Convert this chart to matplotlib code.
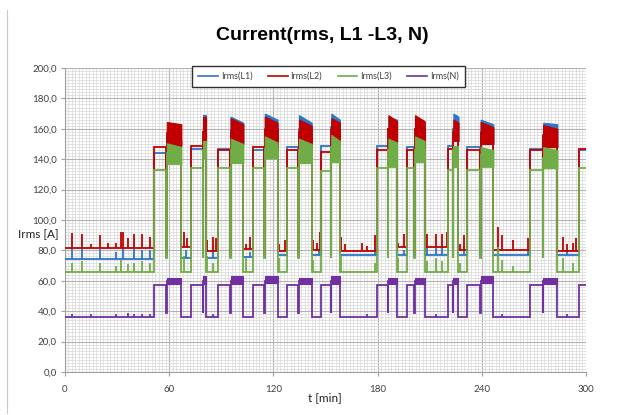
import matplotlib
matplotlib.use("Agg")
import matplotlib.pyplot as plt
from matplotlib.ticker import MultipleLocator, FuncFormatter
from matplotlib.lines import Line2D

# ---------------- data ----------------
series_names = ["Irms(L1)", "Irms(L2)", "Irms(L3)", "Irms(N)"]

seg_start = [0, 51, 58.3, 67, 72.7, 79.4, 81, 88.3, 95, 102.7, 108, 114.7, 122.4,
             127.7, 134.4, 142.1, 147.2, 153, 158.3, 179.7, 185.9, 191.2, 197,
             201.2, 207.1, 220.8, 223.3, 226.6, 231.7, 239, 246.7, 268, 275,
             283.5, 296]
seg_end_time = 300
seg_state = ["L", "M", "H", "L", "M", "H", "L", "M", "H", "L", "M", "H", "L",
             "M", "H", "L", "M", "H", "L", "M", "H", "L", "M",
             "H", "L", "M", "H", "L", "M", "H", "L", "M", "H",
             "L", "M"]

l1_level = [74.3, 144, 155, 75, 146.5, 158, 75, 147, 159, 75.5, 146, 160, 77,
            148, 160, 77, 149, 161, 77, 149, 160, 77, 148,
            160, 77, 149, 160, 77, 148, 158, 77, 147, 156,
            77, 146]
l2_level = [81.8, 148, 157, 82, 149, 158, 79.5, 146, 158, 81, 148, 159, 79.5,
            146, 158, 80, 145, 159, 79.5, 146, 160, 82.5, 146,
            160, 82.5, 147, 158, 80.5, 146, 157, 80, 146, 155,
            79.5, 147]
l3_level = [66, 133, 144, 66, 134, 146, 66, 134, 146, 66, 134, 147, 66,
            134, 146, 66, 132, 148, 66, 134, 146, 66, 134,
            146, 66, 133, 146, 66, 133, 143, 66, 133, 141,
            66, 134]
n_level = [36.4, 57.2, 60, 36, 57, 60, 36, 57, 60, 36, 57, 60, 36,
           57, 60, 36, 57, 60, 36, 57, 60, 36, 57,
           60, 36, 57, 60, 36, 57, 60, 36, 57, 60,
           36, 57]

# brief dip to the low state at the start of each high-load block
dip_l1, dip_l2, dip_l3, dip_n = 76, 78, 75, 38.5

# fluctuation envelopes of the 11 high-load blocks (start / end of block)
h_l1_top_a = [155, 169, 168, 170, 169, 170, 168, 168, 170, 166, 164]
h_l1_top_b = [152, 169, 164, 166, 164, 166, 166, 165, 168, 163, 163]
h_l2_top_a = [164.5, 168, 167, 168, 166, 167, 169, 169, 166, 164.5, 162.5]
h_l2_top_b = [163, 168, 163, 164, 162, 164, 165, 165, 164, 161, 160]
h_l2_bot = [149, 150, 150, 151.5, 150, 151, 151.5, 150, 152, 150, 148]
h_l3_top_a = [150.5, 152, 153.5, 155, 153.5, 156, 153.5, 155, 149, 148, 148]
h_l3_top_b = [148, 152, 150, 151, 150, 152, 151, 152, 149, 146, 146]
h_l3_bot = [137, 140, 137.5, 140.5, 137.5, 138, 135, 138, 135, 135, 134]
h_n_top = [62, 63, 63, 63, 62, 63, 62, 62, 62, 63, 62]
h_n_bot = [58, 58, 58, 58.5, 58, 58, 58, 58, 58, 58.5, 58]

# short spikes during low-load periods
l2_spike_t = [4.2, 9.9, 14.9, 20.1, 24.8, 29.3, 32.5, 33.4, 36.3, 39.6, 44.6, 48.8,
              68.5, 70, 82, 85.5, 87, 104, 106.5, 123, 126.5, 143, 145, 146.8,
              159, 161, 171, 174, 178.5, 192, 195, 208.5, 213.5, 217, 220,
              227.5, 229.5, 249.5, 251.5, 258, 266.5, 286.5, 289, 292.5, 294.5]
l2_spike_v = [91.6, 91, 84, 90, 85, 85, 92, 92, 88, 91, 91, 89,
              92, 88, 87, 89, 88, 84, 89, 84, 87, 87, 85, 92,
              89, 84, 85, 83, 90, 85, 91, 91, 91, 91, 92,
              84, 90, 95.6, 90, 87, 88, 89, 84, 85, 88]
l1_spike_t = [4.2, 9.9, 20.1, 29.3, 33.4, 39.6, 44.6, 48.8, 69.5, 85.5, 106.5,
              146, 178.5, 195, 208.5, 213.5, 217, 229.5, 249.5, 266.5, 289]
l1_spike_v = [82, 82, 81, 79, 82, 81, 80, 80, 80, 80, 79,
              80, 80, 80, 82, 82, 82, 81, 82, 80, 80]
l3_spike_t = [4.2, 9.9, 20.1, 29.3, 32.5, 36.3, 39.6, 44.6, 48.8, 68.5, 82, 85.5,
              104, 123, 143, 159, 178.5, 192, 208.5, 213.5, 217, 227.5, 249.5,
              251.5, 258, 286.5, 292.5]
l3_spike_v = [72, 73, 72, 70, 74, 71, 72, 73, 72, 76, 76, 72,
              75, 75, 74, 76, 72, 75, 73, 75, 73, 72, 82,
              74, 70, 75, 72]
n_spike_t = [4.2, 14.9, 29.3, 36.3, 39.6, 44.6, 48.8, 85.5, 174, 213.5, 251.5, 289]
n_spike_v = [38, 38, 38, 38.5, 38, 38, 38, 38, 38, 38, 38, 38]

x_ticks = [0, 60, 120, 180, 240, 300]

# ---------------- styling ----------------
c_l1 = "#2E75C6"
c_l2 = "#C00000"
c_l3 = "#70AD47"
c_n = "#7030A0"
lw = 1.3

fig = plt.figure(figsize=(6.39, 4.15), dpi=100)
ax = fig.add_axes([0.1017, 0.1036, 0.8153, 0.7325])

ends_all = seg_start[1:] + [seg_end_time]

def build_path(levels, dip):
    xs, ys = [], []
    for s, e, st, v in zip(seg_start, ends_all, seg_state, levels):
        if st == "H":
            xs += [s, s + 0.35, s + 0.35, e]
            ys += [dip, dip, v, v]
        else:
            xs += [s, e]
            ys += [v, v]
    return xs, ys

def level_at(levels, t):
    for s, e, v in zip(seg_start, ends_all, levels):
        if s <= t < e:
            return v
    return levels[-1]

h_idx = [i for i, st in enumerate(seg_state) if st == "H"]
h_spans = [(seg_start[i] + 0.35, ends_all[i]) for i in h_idx]

def draw_series(levels, dip, tops_a, tops_b, bots, sp_t, sp_v, color, z):
    xs, ys = build_path(levels, dip)
    ax.plot(xs, ys, color=color, lw=lw, zorder=z, solid_joinstyle="miter")
    for (s, e), ta, tb, b in zip(h_spans, tops_a, tops_b, bots):
        ax.fill_between([s, e], [b, b], [ta, tb], color=color, lw=0.8, zorder=z)
    ax.vlines(sp_t, [level_at(levels, t) for t in sp_t], sp_v,
              color=color, lw=lw, zorder=z)

draw_series(l1_level, dip_l1, h_l1_top_a, h_l1_top_b, h_l2_bot,
            l1_spike_t, l1_spike_v, c_l1, 3)
draw_series(l2_level, dip_l2, h_l2_top_a, h_l2_top_b, h_l2_bot,
            l2_spike_t, l2_spike_v, c_l2, 4)
draw_series(l3_level, dip_l3, h_l3_top_a, h_l3_top_b, h_l3_bot,
            l3_spike_t, l3_spike_v, c_l3, 5)
draw_series(n_level, dip_n, h_n_top, h_n_top, h_n_bot,
            n_spike_t, n_spike_v, c_n, 6)

# axes
ax.set_xlim(0, 300)
ax.set_ylim(0, 200)
ax.set_xticks(x_ticks)
ax.xaxis.set_minor_locator(MultipleLocator(2))
ax.yaxis.set_major_locator(MultipleLocator(20))
ax.yaxis.set_minor_locator(MultipleLocator(2))
ax.yaxis.set_major_formatter(FuncFormatter(lambda v, p: f"{v:.1f}".replace(".", ",")))
ax.grid(which="minor", color="#d8d8d8", lw=0.5)
ax.grid(which="major", color="#b4b4b4", lw=0.8)
ax.set_axisbelow(True)
ax.tick_params(which="minor", length=0)
ax.tick_params(which="major", length=3, color="#a0a0a0", labelsize=7,
               labelcolor="#404040", pad=3)
ax.tick_params(axis="x", pad=6)
for sp in ["top", "right"]:
    ax.spines[sp].set_visible(False)
for sp in ["left", "bottom"]:
    ax.spines[sp].set_color("#a0a0a0")
for lab in ax.get_xticklabels() + ax.get_yticklabels():
    lab.set_fontfamily("Lato")

fig.text(0.505, 0.915, "Current(rms, L1 -L3, N)", ha="center", va="center",
         fontsize=14, fontweight="bold", family="Liberation Sans", color="#000000")
fig.text(0.508, 0.042, "t [min]", ha="center", va="center", fontsize=8.5,
         family="Lato", color="#202020")
fig.text(0.028, 0.435, "Irms [A]", ha="left", va="center", fontsize=8.5,
         family="Lato", color="#202020")

handles = [Line2D([], [], color=c, lw=1.2) for c in (c_l1, c_l2, c_l3, c_n)]
leg = fig.legend(handles, series_names, loc="center", bbox_to_anchor=(0.514, 0.816),
                 ncol=4, frameon=True, fancybox=False,
                 handlelength=2.2, handletextpad=0.3, columnspacing=1.7,
                 borderpad=0.7, prop={"family": "Lato", "size": 6.5})
leg.get_frame().set_edgecolor("#303030")
leg.get_frame().set_linewidth(1.0)
leg.get_frame().set_facecolor("white")
leg.get_frame().set_alpha(1)
for t in leg.get_texts():
    t.set_color("#404040")

fig.add_artist(Line2D([0.011, 0.011], [0.005, 0.975], color="#c8c8c8", lw=0.8,
                      transform=fig.transFigure))

fig.savefig("out.png", dpi=100)
